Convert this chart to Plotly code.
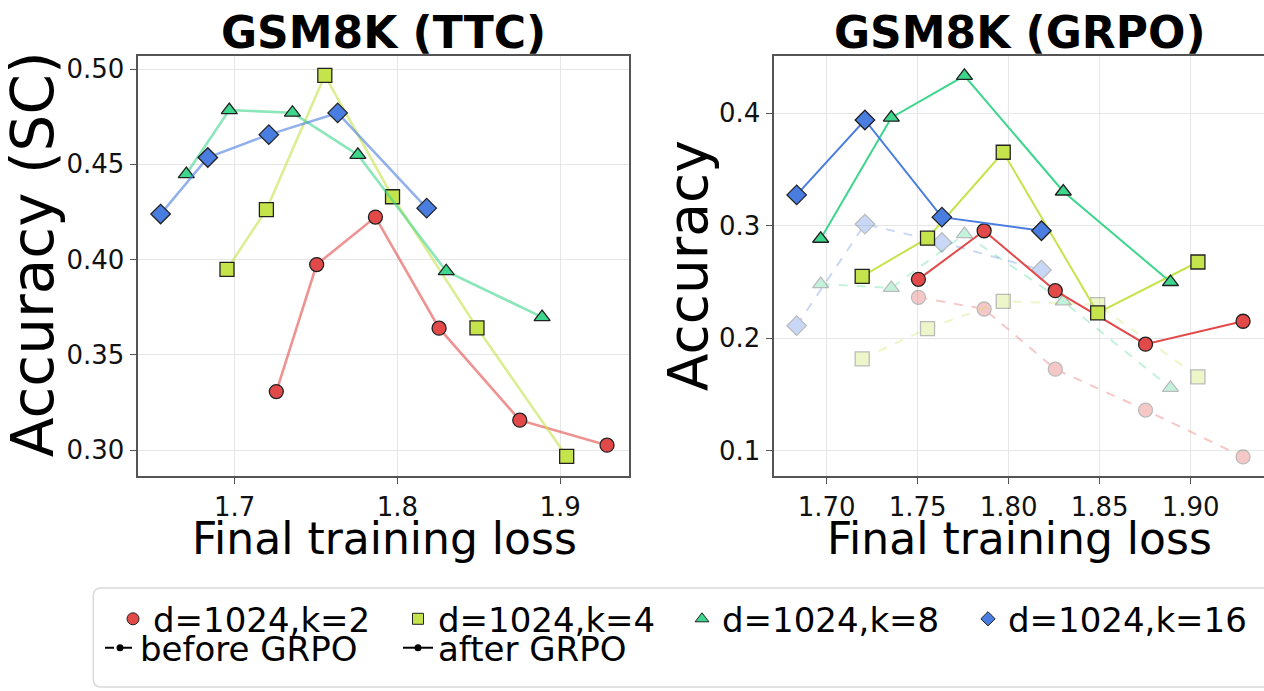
import plotly.graph_objects as go

W, H = 1264, 691

# ---------------- data ----------------
LABELS = ["d=1024,k=2", "d=1024,k=4", "d=1024,k=8", "d=1024,k=16"]

# final training loss per model (x)
LOSS_K2 = [1.7256, 1.7504, 1.7865, 1.8256, 1.8752, 1.9288]
LOSS_K4 = [1.6953, 1.7195, 1.7554, 1.7970, 1.8489, 1.9040]
LOSS_K8 = [1.6703, 1.6967, 1.7355, 1.7757, 1.8300, 1.8889]
LOSS_K16 = [1.6545, 1.6835, 1.7210, 1.7633, 1.8180]

# GSM8K (TTC): accuracy (SC)
TTC_K2 = [0.3307, 0.3974, 0.4223, 0.3640, 0.3157, 0.3026]
TTC_K4 = [0.3949, 0.4262, 0.4967, 0.4330, 0.3642, 0.2967]
TTC_K8 = [0.4449, 0.4785, 0.4771, 0.4550, 0.3939, 0.3698]
TTC_K16 = [0.4239, 0.4536, 0.4656, 0.4770, 0.4270]

# GSM8K (GRPO): models evaluated (all but the first of each family)
GRPO_LOSS_K2 = LOSS_K2[1:]
GRPO_LOSS_K4 = LOSS_K4[1:]
GRPO_LOSS_K8 = LOSS_K8[1:]
GRPO_LOSS_K16 = LOSS_K16[1:]

BEFORE_K2 = [0.2364, 0.2260, 0.1725, 0.1361, 0.0944]
BEFORE_K4 = [0.1817, 0.2086, 0.2328, 0.2299, 0.1657]
BEFORE_K8 = [0.2482, 0.2447, 0.2926, 0.2328, 0.1559]
BEFORE_K16 = [0.2112, 0.3015, 0.2852, 0.2607]

AFTER_K2 = [0.2524, 0.2956, 0.2423, 0.1947, 0.2151]
AFTER_K4 = [0.2550, 0.2890, 0.3654, 0.2225, 0.2678]
AFTER_K8 = [0.2885, 0.3962, 0.4334, 0.3305, 0.2500]
AFTER_K16 = [0.3275, 0.3941, 0.3077, 0.2956]

LEFT_XTICKS = [1.7, 1.8, 1.9]
LEFT_YTICKS = [0.30, 0.35, 0.40, 0.45, 0.50]
RIGHT_XTICKS = [1.70, 1.75, 1.80, 1.85, 1.90]
RIGHT_YTICKS = [0.1, 0.2, 0.3, 0.4]

# ---------------- styling ----------------
COLORS = ["#e24a4a", "#c5e34b", "#3dd68c", "#4a7de0"]
SYMBOLS = ["circle", "square", "triangle-up", "diamond"]
SIZES = [14, 14, 14, 15]
LEG_SIZES = [12, 11, 12, 11]
FONT = "DejaVu Sans"
EDGE = "#222222"


def rgba(hexc, a):
    h = hexc.lstrip("#")
    r, g, b = int(h[0:2], 16), int(h[2:4], 16), int(h[4:6], 16)
    return f"rgba({r},{g},{b},{a})"


def px(p):
    return p / W


def py(p):
    return 1 - p / H


ttc_x = [LOSS_K2, LOSS_K4, LOSS_K8, LOSS_K16]
ttc_y = [TTC_K2, TTC_K4, TTC_K8, TTC_K16]
grpo_x = [GRPO_LOSS_K2, GRPO_LOSS_K4, GRPO_LOSS_K8, GRPO_LOSS_K16]
before_y = [BEFORE_K2, BEFORE_K4, BEFORE_K8, BEFORE_K16]
after_y = [AFTER_K2, AFTER_K4, AFTER_K8, AFTER_K16]

fig = go.Figure()

# left panel
for i in range(4):
    fig.add_trace(go.Scatter(
        x=ttc_x[i], y=ttc_y[i], mode="lines+markers", showlegend=False,
        line=dict(color=rgba(COLORS[i], 0.6), width=2.6),
        marker=dict(symbol=SYMBOLS[i], size=SIZES[i], color=COLORS[i],
                    line=dict(color=EDGE, width=1.3)),
        xaxis="x", yaxis="y", hoverinfo="skip"))

# right panel: before GRPO (faded, dashed)
for i in range(4):
    fig.add_trace(go.Scatter(
        x=grpo_x[i], y=before_y[i], mode="lines+markers", showlegend=False,
        opacity=0.3,
        line=dict(color=COLORS[i], width=2, dash="dash"),
        marker=dict(symbol=SYMBOLS[i], size=SIZES[i], color=COLORS[i],
                    line=dict(color=EDGE, width=1.3)),
        xaxis="x2", yaxis="y2", hoverinfo="skip"))

# right panel: after GRPO (solid)
for i in range(4):
    fig.add_trace(go.Scatter(
        x=grpo_x[i], y=after_y[i], mode="lines+markers", showlegend=False,
        line=dict(color=COLORS[i], width=2),
        marker=dict(symbol=SYMBOLS[i], size=SIZES[i], color=COLORS[i],
                    line=dict(color=EDGE, width=1.3)),
        xaxis="x2", yaxis="y2", hoverinfo="skip"))

# legend entries (each in its own legend for exact placement)
LEG_TEXT_X = [153, 438, 722, 1008]
ROW1_Y = 619
ROW2_Y = 648
legends = {}
for i in range(4):
    name = "legend" if i == 0 else f"legend{i + 1}"
    fig.add_trace(go.Scatter(
        x=[None], y=[None], mode="markers", name=LABELS[i], legend=name,
        marker=dict(symbol=SYMBOLS[i], size=LEG_SIZES[i], color=COLORS[i],
                    line=dict(color=EDGE, width=1.0)),
        xaxis="x", yaxis="y"))
    legends[name] = dict(x=px(LEG_TEXT_X[i] - 40), y=py(ROW1_Y),
                         xanchor="left", yanchor="middle")

STYLE_LABELS = ["before GRPO", "after GRPO"]
STYLE_DASH = ["dash", "solid"]
ROW2_TEXT_X = [140, 438]
for j in range(2):
    name = f"legend{5 + j}"
    fig.add_trace(go.Scatter(
        x=[None], y=[None], mode="lines+markers", name=STYLE_LABELS[j], legend=name,
        line=dict(color="black", width=2, dash=STYLE_DASH[j]),
        marker=dict(symbol="circle", size=7, color="black"),
        xaxis="x", yaxis="y"))
    legends[name] = dict(x=px(ROW2_TEXT_X[j] - 40), y=py(ROW2_Y),
                         xanchor="left", yanchor="middle")

leg_common = dict(font=dict(family=FONT, size=34, color="black"),
                  bgcolor="rgba(0,0,0,0)", borderwidth=0, orientation="h",
                  itemclick=False, itemdoubleclick=False)
for k, v in legends.items():
    v.update(leg_common)

axis_common = dict(
    showgrid=True, gridcolor="#e6e6e6", gridwidth=1,
    showline=True, linecolor="#555555", linewidth=1.5,
    ticks="outside", ticklen=7, tickwidth=1.2, tickcolor="#555555",
    tickfont=dict(family=FONT, size=26, color="#111111"),
    zeroline=False,
)

y_dom = [py(475), py(54.3)]

layout = dict(
    width=W, height=H, margin=dict(l=0, r=0, t=0, b=0),
    paper_bgcolor="white", plot_bgcolor="white",
    font=dict(family=FONT, color="black"),
    xaxis=dict(domain=[px(138.3), px(629)], range=[1.6408, 1.9423],
               tickvals=LEFT_XTICKS, ticktext=[f"{v:.1f}" for v in LEFT_XTICKS],
               mirror=True, anchor="y", **axis_common),
    yaxis=dict(domain=y_dom, range=[0.2866, 0.5068],
               tickvals=LEFT_YTICKS, ticktext=[f"{v:.2f}" for v in LEFT_YTICKS],
               mirror=True, anchor="x", **axis_common),
    xaxis2=dict(domain=[px(774.3), 1.0], range=[1.6712, 1.9403],
                tickvals=RIGHT_XTICKS, ticktext=[f"{v:.2f}" for v in RIGHT_XTICKS],
                mirror=True, anchor="y2", **axis_common),
    yaxis2=dict(domain=y_dom, range=[0.0778, 0.4509],
                tickvals=RIGHT_YTICKS, ticktext=[f"{v:.1f}" for v in RIGHT_YTICKS],
                mirror=False, anchor="x2", **axis_common),
    showlegend=True,
)
layout.update(legends)

# titles and axis labels
ann = []
ann.append(dict(text="<b>GSM8K (TTC)</b>", x=px(383.6), y=py(31), xref="paper", yref="paper",
                xanchor="center", yanchor="middle", showarrow=False,
                font=dict(family=FONT, size=44, color="black")))
ann.append(dict(text="<b>GSM8K (GRPO)</b>", x=px(1019.6), y=py(31), xref="paper", yref="paper",
                xanchor="center", yanchor="middle", showarrow=False,
                font=dict(family=FONT, size=44, color="black")))
for cx in (384, 1019):
    ann.append(dict(text="Final training loss", x=px(cx), y=py(538), xref="paper", yref="paper",
                    xanchor="center", yanchor="middle", showarrow=False,
                    font=dict(family=FONT, size=44, color="black")))
ann.append(dict(text="Accuracy (SC)", x=px(33), y=py(253), xref="paper", yref="paper",
                xanchor="center", yanchor="middle", showarrow=False, textangle=-90,
                font=dict(family=FONT, size=58, color="black")))
ann.append(dict(text="Accuracy", x=px(688), y=py(265), xref="paper", yref="paper",
                xanchor="center", yanchor="middle", showarrow=False, textangle=-90,
                font=dict(family=FONT, size=55, color="black")))
layout["annotations"] = ann

# legend frame (rounded, extends past the right edge)
x0, x1, t, b, r = 93.3, 1290, 587.7, 687, 8
path = (f"M {px(x0 + r)},{py(t)} L {px(x1)},{py(t)} L {px(x1)},{py(b)} "
        f"L {px(x0 + r)},{py(b)} Q {px(x0)},{py(b)} {px(x0)},{py(b - r)} "
        f"L {px(x0)},{py(t + r)} Q {px(x0)},{py(t)} {px(x0 + r)},{py(t)} Z")
layout["shapes"] = [dict(type="path", path=path, xref="paper", yref="paper",
                         line=dict(color="#d9d9d9", width=1.5), fillcolor="rgba(255,255,255,0)",
                         layer="below")]

fig.update_layout(**layout)
fig.write_html("out.html", config={"displayModeBar": False})
